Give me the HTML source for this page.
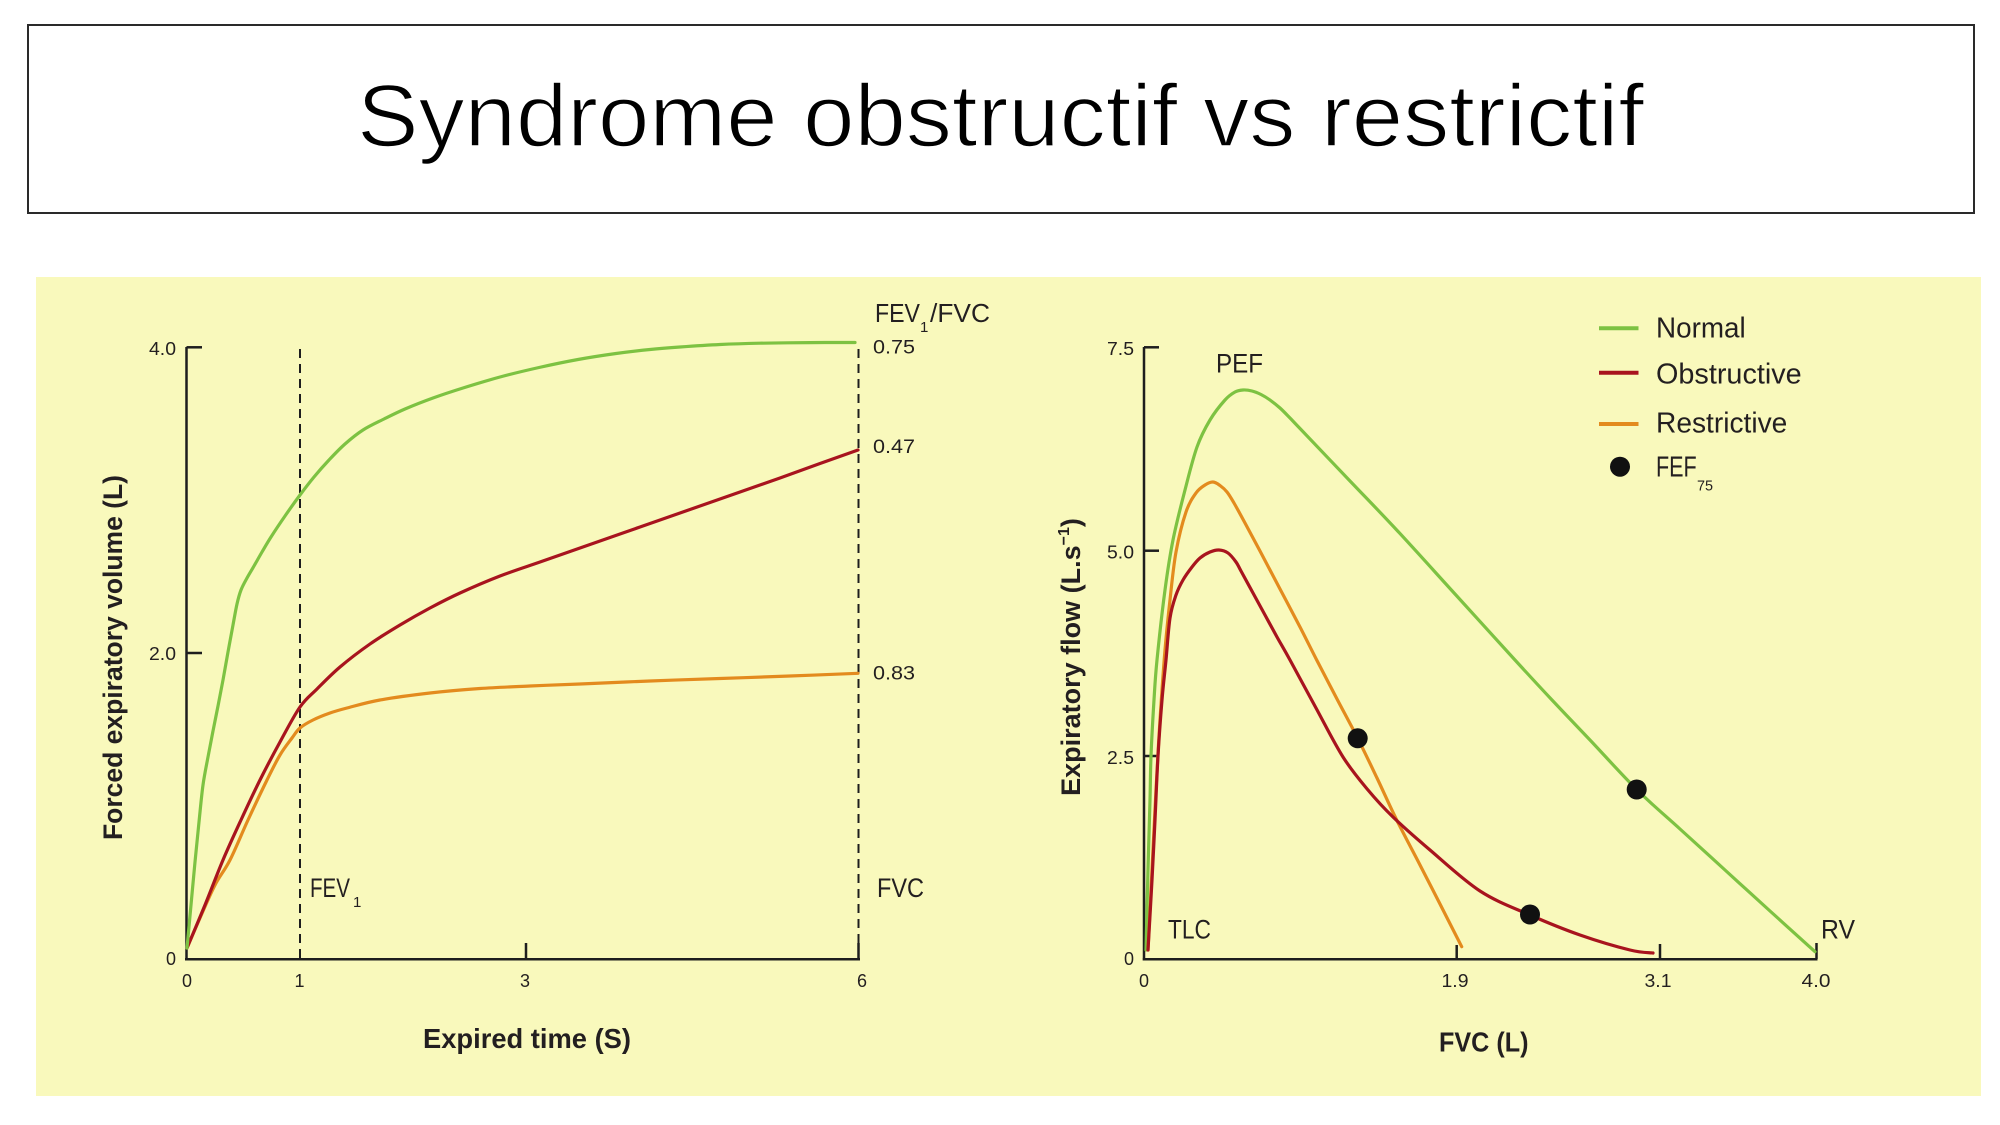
<!DOCTYPE html>
<html><head><meta charset="utf-8"><style>
html,body{margin:0;padding:0;background:#fff;}
svg{display:block;}
text{font-family:"Liberation Sans",sans-serif;fill:#231f20;}
</style></head><body>
<svg id="chart" width="2000" height="1125" viewBox="0 0 2000 1125" xmlns="http://www.w3.org/2000/svg">
<rect x="0" y="0" width="2000" height="1125" fill="#ffffff"/>
<!-- Title box -->
<rect x="28" y="25" width="1946" height="188" fill="#fff" stroke="#2a2a2a" stroke-width="2"/>
<text x="357" y="146" font-size="88" textLength="1287" lengthAdjust="spacingAndGlyphs" style="fill:#000;stroke:#fff;stroke-width:1.6">Syndrome obstructif vs restrictif</text>

<!-- yellow panel -->
<rect x="36" y="277" width="1945" height="819" fill="#f9f9bc"/>

<!-- ================= LEFT CHART ================= -->
<g stroke="#1e1e1e" stroke-width="2.5" fill="none">
  <line x1="186.5" y1="347" x2="186.5" y2="960.5"/>
  <line x1="185" y1="959.3" x2="860" y2="959.3"/>
  <line x1="186.5" y1="347.3" x2="202" y2="347.3"/>
  <line x1="186.5" y1="653" x2="202" y2="653"/>
  <line x1="526" y1="943" x2="526" y2="959"/>
  <line x1="858.5" y1="943" x2="858.5" y2="959"/>
</g>
<g stroke="#1e1e1e" stroke-width="2" stroke-dasharray="9 6" fill="none">
  <line x1="300" y1="349" x2="300" y2="959"/>
  <line x1="858.5" y1="349" x2="858.5" y2="959"/>
</g>
<!-- tick labels -->
<g font-size="18">
  <text x="176" y="355" text-anchor="end" textLength="27" lengthAdjust="spacingAndGlyphs">4.0</text>
  <text x="176" y="660" text-anchor="end" textLength="27" lengthAdjust="spacingAndGlyphs">2.0</text>
  <text x="176" y="965" text-anchor="end">0</text>
  <text x="187" y="987" text-anchor="middle">0</text>
  <text x="299.5" y="987" text-anchor="middle">1</text>
  <text x="525" y="987" text-anchor="middle">3</text>
  <text x="862" y="987" text-anchor="middle">6</text>
</g>
<!-- FEV1 / FVC labels -->
<text x="310" y="897" font-size="27" textLength="40" lengthAdjust="spacingAndGlyphs">FEV</text>
<text x="353" y="907" font-size="15">1</text>
<text x="877" y="897" font-size="27" textLength="47" lengthAdjust="spacingAndGlyphs">FVC</text>
<text x="875" y="322" font-size="26" textLength="45" lengthAdjust="spacingAndGlyphs">FEV</text>
<text x="920" y="332" font-size="15">1</text>
<text x="930" y="322" font-size="26" textLength="60" lengthAdjust="spacingAndGlyphs">/FVC</text>
<g font-size="19">
  <text x="873" y="353.5" textLength="42" lengthAdjust="spacingAndGlyphs">0.75</text>
  <text x="873" y="453" textLength="42" lengthAdjust="spacingAndGlyphs">0.47</text>
  <text x="873" y="679.5" textLength="42" lengthAdjust="spacingAndGlyphs">0.83</text>
</g>
<!-- axis titles -->
<text x="423" y="1048" font-size="27.5" font-weight="bold" textLength="208" lengthAdjust="spacingAndGlyphs">Expired time (S)</text>
<text transform="translate(122,657.5) rotate(-90)" text-anchor="middle" font-size="27" font-weight="bold" textLength="365" lengthAdjust="spacingAndGlyphs">Forced expiratory volume (L)</text>

<!-- curves left -->
<g fill="none" stroke-width="3.2" stroke-linejoin="round" stroke-linecap="round">
<polyline class="s" stroke="#e38b1e" points="187,948 200,918 215,885 230,860 248,820 267,780 280,755 292,738 300,728 313,720 330,713 347,708 380,700 430,693 480,688.5 530,686 580,684 650,681 720,678.5 790,676 858,673.3"/>
<polyline class="s" stroke="#a8141e" points="187,948 205,905 223,860 241,820 260,780 280,742 300,707 317,689 340,667 370,644 400,625 430,608 460,593 500,576 540,562 580,548 620,534 660,520 700,506 740,492 780,478 820,463.5 858,450"/>
<polyline class="s" stroke="#7dc242" points="187,948 191,905 195,862 199,822 203,785 208,757 213,731 218,706 223,680 228,652 233,625 237,604 241,590 247,578 254,566 262,552 271,537 285,516 300,495 314,477 329,460 345,444 363,430 384,419 405,409 433,398 463,388 500,377 539,367.5 578,359.5 616,353.5 650,349.5 680,347 720,344.5 760,343.2 810,342.6 855,342.5"/>
</g>

<!-- ================= RIGHT CHART ================= -->
<g stroke="#1e1e1e" stroke-width="2.5" fill="none">
  <line x1="1144" y1="347" x2="1144" y2="960.5"/>
  <line x1="1142.8" y1="959.3" x2="1817.5" y2="959.3"/>
  <line x1="1144" y1="347.3" x2="1159" y2="347.3"/>
  <line x1="1144" y1="550.7" x2="1159" y2="550.7"/>
  <line x1="1144" y1="756" x2="1159" y2="756"/>
  <line x1="1456.7" y1="945" x2="1456.7" y2="959"/>
  <line x1="1660" y1="944" x2="1660" y2="959"/>
  <line x1="1816.5" y1="943" x2="1816.5" y2="959"/>
</g>
<g font-size="18">
  <text x="1134" y="355" text-anchor="end" textLength="27" lengthAdjust="spacingAndGlyphs">7.5</text>
  <text x="1134" y="558.7" text-anchor="end" textLength="27" lengthAdjust="spacingAndGlyphs">5.0</text>
  <text x="1134" y="764" text-anchor="end" textLength="27" lengthAdjust="spacingAndGlyphs">2.5</text>
  <text x="1134" y="965" text-anchor="end">0</text>
  <text x="1144" y="987" text-anchor="middle">0</text>
  <text x="1455" y="987" text-anchor="middle" textLength="27" lengthAdjust="spacingAndGlyphs">1.9</text>
  <text x="1658" y="987" text-anchor="middle" textLength="27" lengthAdjust="spacingAndGlyphs">3.1</text>
  <text x="1816" y="987" text-anchor="middle" textLength="29" lengthAdjust="spacingAndGlyphs">4.0</text>
</g>
<text x="1216" y="372.7" font-size="27" textLength="47" lengthAdjust="spacingAndGlyphs">PEF</text>
<text x="1168" y="938.3" font-size="27" textLength="43" lengthAdjust="spacingAndGlyphs">TLC</text>
<text x="1821" y="938.3" font-size="27" textLength="34" lengthAdjust="spacingAndGlyphs">RV</text>
<text x="1439" y="1051.7" font-size="27.5" font-weight="bold" textLength="89.5" lengthAdjust="spacingAndGlyphs">FVC (L)</text>
<text transform="translate(1080,657) rotate(-90)" text-anchor="middle" font-size="27" font-weight="bold">Expiratory flow (L.s<tspan font-size="16" dy="-11">−1</tspan><tspan dy="11">)</tspan></text>

<!-- legend -->
<g stroke-width="4">
  <line x1="1599" y1="328.3" x2="1638.5" y2="328.3" stroke="#7dc242"/>
  <line x1="1599" y1="372.7" x2="1638.5" y2="372.7" stroke="#a8141e"/>
  <line x1="1599" y1="424" x2="1638.5" y2="424" stroke="#e38b1e"/>
</g>
<circle cx="1620" cy="466.7" r="10" fill="#111"/>
<g font-size="28.5">
  <text x="1656" y="337.3" textLength="89.7" lengthAdjust="spacingAndGlyphs">Normal</text>
  <text x="1656" y="383.3" textLength="145.7" lengthAdjust="spacingAndGlyphs">Obstructive</text>
  <text x="1656" y="432.3" textLength="131.3" lengthAdjust="spacingAndGlyphs">Restrictive</text>
  <text x="1656" y="476.7" textLength="40.7" lengthAdjust="spacingAndGlyphs">FEF</text>
</g>
<text x="1697" y="490.7" font-size="15" textLength="16" lengthAdjust="spacingAndGlyphs">75</text>

<!-- curves right -->
<g fill="none" stroke-width="3.2" stroke-linejoin="round" stroke-linecap="round">
<polyline class="s" stroke="#7dc242" points="1146,950 1148,870 1150,800 1151,756 1154,700 1157,660 1165,590 1173,540 1185,490 1197,447 1210,420 1225,400 1235,392 1243,390 1252,391 1261,394.5 1270,400 1280,408 1290,418 1300,428.5 1350,481 1396.7,530 1455,594 1515,660 1552,700 1590,740 1636.7,789.5 1680,829 1725,870 1770,911 1815,951.7"/>
<polyline class="s" stroke="#e38b1e" points="1148,950 1152,870 1156,790 1160,720 1165,650 1170,600 1176,552 1186,512 1196,493 1205,485 1213,482 1220,485.5 1227,492 1234,503 1245,523 1260,551 1280,589 1300,627 1316.7,660 1337,699 1357.7,738.3 1377,778 1396.7,820 1420,865 1440,904 1461.7,946.7"/>
<polyline class="s" stroke="#a8141e" points="1148,950 1152,880 1155,820 1158,756 1162,700 1166,660 1170,618 1176,595 1183,580 1192,567 1200,558 1210,552 1219,550 1228,553 1236,562 1241,571 1253,593 1265,615 1277,637 1290,660 1316,708 1343,757 1368,790 1393,817 1430,850 1480,891 1530,915 1580,935 1630,950 1653,953"/>
</g>
<!-- FEF75 dots -->
<circle cx="1357.7" cy="738.3" r="10" fill="#111"/>
<circle cx="1530" cy="914.5" r="10" fill="#111"/>
<circle cx="1636.7" cy="789.5" r="10" fill="#111"/>
</svg>
<script>
(function(){
  var ns="http://www.w3.org/2000/svg";
  var pls=document.querySelectorAll("polyline.s");
  for(var k=0;k<pls.length;k++){
    var pl=pls[k];
    var raw=pl.getAttribute("points").trim().split(/\s+/);
    var p=raw.map(function(s){var a=s.split(",");return [parseFloat(a[0]),parseFloat(a[1])];});
    if(p.length<3) continue;
    var d="M"+p[0][0]+","+p[0][1];
    for(var i=0;i<p.length-1;i++){
      var p0=p[i>0?i-1:0],p1=p[i],p2=p[i+1],p3=p[i+2<p.length?i+2:p.length-1];
      var c1x=p1[0]+(p2[0]-p0[0])/6,c1y=p1[1]+(p2[1]-p0[1])/6;
      var c2x=p2[0]-(p3[0]-p1[0])/6,c2y=p2[1]-(p3[1]-p1[1])/6;
      d+=" C"+c1x.toFixed(2)+","+c1y.toFixed(2)+" "+c2x.toFixed(2)+","+c2y.toFixed(2)+" "+p2[0]+","+p2[1];
    }
    var path=document.createElementNS(ns,"path");
    path.setAttribute("d",d);
    path.setAttribute("stroke",pl.getAttribute("stroke"));
    pl.parentNode.replaceChild(path,pl);
  }
})();
</script>
</body></html>
